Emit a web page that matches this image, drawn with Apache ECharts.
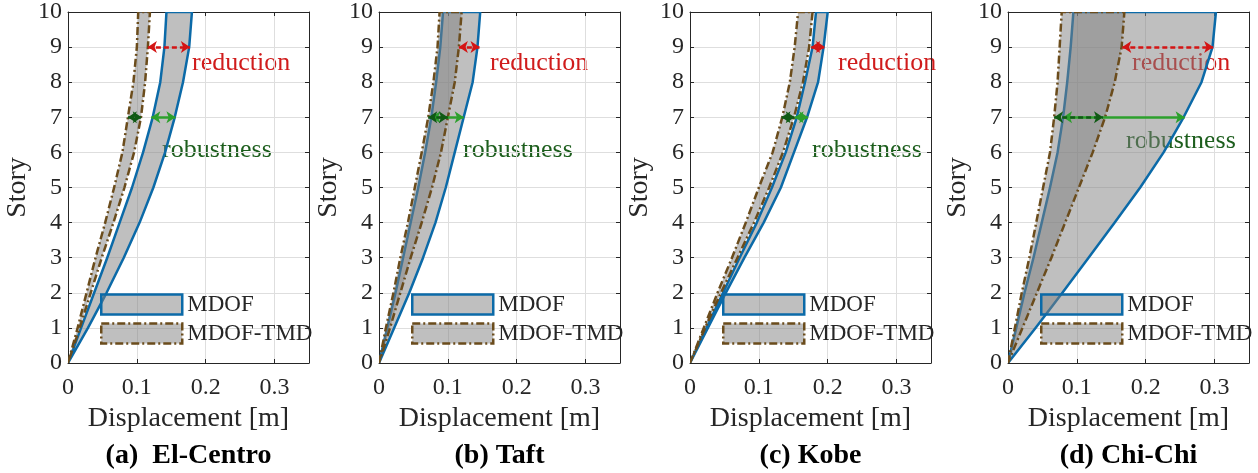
<!DOCTYPE html>
<html>
<head>
<meta charset="utf-8">
<script src="https://cdn.jsdelivr.net/npm/echarts@6/dist/echarts.min.js"></script>
<style>
html, body { margin: 0; padding: 0; background: #fff; }
#main { width: 1258px; height: 473px; }
</style>
</head>
<body>
<div id="main"></div>
<script>
// story levels and axis ticks
const stories = [0, 1, 2, 3, 4, 5, 6, 7, 8, 9, 10];
const xTicks = [0, 0.1, 0.2, 0.3];
const panelTitles = ['(a)  El-Centro', '(b) Taft', '(c) Kobe', '(d) Chi-Chi'];
const bandNames = ['MDOF', 'MDOF-TMD'];

// displacement envelopes [m] per story (low / high bound)
const elMdofLow  = [0, 0.019, 0.038, 0.057, 0.075, 0.093, 0.109, 0.123, 0.134, 0.140, 0.143];
const elMdofHigh = [0, 0.029, 0.056, 0.081, 0.104, 0.124, 0.141, 0.155, 0.167, 0.176, 0.180];
const elTmdLow   = [0, 0.014, 0.027, 0.040, 0.054, 0.067, 0.079, 0.087, 0.095, 0.100, 0.102];
const elTmdHigh  = [0, 0.017, 0.033, 0.049, 0.066, 0.082, 0.096, 0.106, 0.112, 0.116, 0.119];

const taMdofLow  = [0, 0.012, 0.024, 0.035, 0.046, 0.057, 0.067, 0.076, 0.083, 0.089, 0.093];
const taMdofHigh = [0, 0.022, 0.044, 0.064, 0.082, 0.097, 0.110, 0.123, 0.136, 0.143, 0.147];
const taTmdLow   = [0, 0.010, 0.021, 0.031, 0.042, 0.052, 0.062, 0.0715, 0.079, 0.085, 0.088];
const taTmdHigh  = [0, 0.016, 0.031, 0.046, 0.062, 0.077, 0.090, 0.100, 0.110, 0.116, 0.120];

const koMdofLow  = [0, 0.024, 0.048, 0.072, 0.097, 0.119, 0.139, 0.155, 0.167, 0.178, 0.183];
const koMdofHigh = [0, 0.026, 0.052, 0.079, 0.107, 0.132, 0.151, 0.170, 0.186, 0.194, 0.200];
const koTmdLow   = [0, 0.020, 0.040, 0.061, 0.081, 0.100, 0.120, 0.134, 0.145, 0.152, 0.157];
const koTmdHigh  = [0, 0.022, 0.045, 0.069, 0.093, 0.115, 0.135, 0.151, 0.164, 0.173, 0.178];

const ccMdofLow  = [0, 0.012, 0.024, 0.037, 0.049, 0.061, 0.072, 0.080, 0.086, 0.091, 0.095];
const ccMdofHigh = [0, 0.040, 0.079, 0.117, 0.155, 0.192, 0.226, 0.255, 0.281, 0.297, 0.302];
const ccTmdLow   = [0, 0.010, 0.020, 0.031, 0.041, 0.051, 0.061, 0.067, 0.072, 0.075, 0.078];
const ccTmdHigh  = [0, 0.021, 0.042, 0.063, 0.083, 0.103, 0.123, 0.141, 0.155, 0.165, 0.169];

// annotation arrows: reduction at story 9, robustness at story 7
const reductionStory = 9;
const robustStory = 7;
const reductionSpan = [[0.116, 0.177], [0.116, 0.146], [0.176, 0.196], [0.166, 0.298]];
const robustTmdSpan = [[0.087, 0.107], [0.0715, 0.100], [0.133, 0.152], [0.067, 0.138]];
const robustMdofSpan = [[0.121, 0.156], [0.076, 0.123], [0.152, 0.1715], [0.080, 0.2565]];

const panels = [
  [elMdofLow, elMdofHigh, elTmdLow, elTmdHigh],
  [taMdofLow, taMdofHigh, taTmdLow, taTmdHigh],
  [koMdofLow, koMdofHigh, koTmdLow, koTmdHigh],
  [ccMdofLow, ccMdofHigh, ccTmdLow, ccTmdHigh]
];

const FONT = "'Liberation Serif', 'Times New Roman', serif";
const AX = '#262626';
const BLUE = '#0b6aa8';
const BROWN = '#6b4c1c';
const FILL = 'rgba(128,128,128,0.5)';
const DASHDOT = [8, 3, 2, 3];

const gridLeft = [68, 379, 690, 1008];
const gridTop = 12, gridW = 241, gridH = 351;

var myChart = echarts.init(document.getElementById('main'));

const bandItem = (lo, hi, stroke, dash) => (params, api) => {
  var pts = [];
  for (var i = 0; i < stories.length; i++) pts.push(api.coord([lo[i], stories[i]]));
  for (var j = stories.length - 1; j >= 0; j--) pts.push(api.coord([hi[j], stories[j]]));
  return {
    type: 'polygon',
    shape: { points: pts },
    style: { fill: FILL, stroke: stroke, lineWidth: 2.5, lineDash: dash, lineJoin: 'round' }
  };
};

var grid = [], xAxis = [], yAxis = [], series = [], legend = [], graphic = [];

panels.forEach((p, i) => {
  grid.push({ left: gridLeft[i], top: gridTop, width: gridW, height: gridH });
  // bottom x axis
  xAxis.push({
    gridIndex: i, type: 'value', min: 0, max: 0.35, interval: 0.1, position: 'bottom',
    name: 'Displacement [m]', nameLocation: 'middle', nameGap: 42,
    nameTextStyle: { fontFamily: FONT, fontSize: 28, color: AX },
    axisLine: { onZero: false, lineStyle: { color: AX, width: 1 } },
    axisTick: { inside: true, length: 4, lineStyle: { color: AX } },
    axisLabel: {
      margin: 13, fontFamily: FONT, fontSize: 24, color: AX,
      formatter: v => {
        var t = xTicks.find(k => Math.abs(k - v) < 1e-6);
        return t === undefined ? '' : (t === 0 ? '0' : t.toFixed(1));
      }
    },
    splitLine: { show: true, lineStyle: { color: '#dedede', width: 1 } }
  });
  // top x axis (box)
  xAxis.push({
    gridIndex: i, type: 'value', min: 0, max: 0.35, interval: 0.1, position: 'top',
    axisLine: { onZero: false, lineStyle: { color: AX, width: 1 } },
    axisTick: { inside: true, length: 4, lineStyle: { color: AX } },
    axisLabel: { show: false }, splitLine: { show: false }
  });
  yAxis.push({
    gridIndex: i, type: 'value', min: 0, max: 10, interval: 1, position: 'left',
    name: 'Story', nameLocation: 'middle', nameGap: 36,
    nameTextStyle: { fontFamily: FONT, fontSize: 28, color: AX },
    axisLine: { onZero: false, lineStyle: { color: AX, width: 1 } },
    axisTick: { inside: true, length: 4, lineStyle: { color: AX } },
    axisLabel: { margin: 6, fontFamily: FONT, fontSize: 24, color: AX },
    splitLine: { show: true, lineStyle: { color: '#dedede', width: 1 } }
  });
  yAxis.push({
    gridIndex: i, type: 'value', min: 0, max: 10, interval: 1, position: 'right',
    axisLine: { onZero: false, lineStyle: { color: AX, width: 1 } },
    axisTick: { inside: true, length: 4, lineStyle: { color: AX } },
    axisLabel: { show: false }, splitLine: { show: false }
  });

  var xi = 2 * i, yi = 2 * i;
  series.push({
    name: bandNames[0], type: 'custom', xAxisIndex: xi, yAxisIndex: yi, clip: true,
    data: [[0, 0]], renderItem: bandItem(p[0], p[1], BLUE, null), silent: true,
    itemStyle: { color: FILL, borderColor: BLUE }
  });
  series.push({
    name: bandNames[1], type: 'custom', xAxisIndex: xi, yAxisIndex: yi, clip: true,
    data: [[0, 0]], renderItem: bandItem(p[2], p[3], BROWN, DASHDOT), silent: true,
    itemStyle: { color: FILL, borderColor: BROWN }
  });
  series.push({
    type: 'lines', coordinateSystem: 'cartesian2d', xAxisIndex: xi, yAxisIndex: yi,
    symbol: ['arrow', 'arrow'], symbolSize: 9, silent: true, z: 5,
    data: [
      { coords: [[robustMdofSpan[i][0], robustStory], [robustMdofSpan[i][1], robustStory]],
        lineStyle: { color: '#2ca02c', width: 2.5, opacity: 1, type: 'solid' } },
      { coords: [[robustTmdSpan[i][0], robustStory], [robustTmdSpan[i][1], robustStory]],
        lineStyle: { color: '#0f5a14', width: 2.5, opacity: 1, type: [5, 3] } },
      { coords: [[reductionSpan[i][0], reductionStory], [reductionSpan[i][1], reductionStory]],
        lineStyle: { color: '#d41414', width: 2.5, opacity: 1, type: [5, 3] } }
    ]
  });

  legend.push({
    left: gridLeft[i] + 32, top: 293, orient: 'vertical', selectedMode: false, padding: 0,
    icon: 'rect', itemWidth: 81, itemHeight: 20, itemGap: 6,
    textStyle: { fontFamily: FONT, fontSize: 23, color: AX },
    data: [
      { name: bandNames[0], itemStyle: { color: FILL, borderColor: BLUE, borderWidth: 2.5 } },
      { name: bandNames[1], itemStyle: { color: FILL, borderColor: BROWN, borderWidth: 2.5, borderType: DASHDOT } }
    ]
  });

  graphic.push({
    type: 'text', x: gridLeft[i] + gridW / 2, y: 456,
    style: { text: panelTitles[i], font: "bold 28px " + FONT, fill: '#000', textAlign: 'center', textVerticalAlign: 'middle' }
  });
});

// annotation texts
const reductionX = [192, 490, 838, 1132];
const robustX = [162, 463, 812, 1126];
const robustY = [150, 150, 150, 141];
reductionX.forEach((x, i) => {
  graphic.push({ type: 'text', x: x, y: 63,
    style: { text: 'reduction', font: "26px " + FONT, fill: '#d01c1c', textVerticalAlign: 'middle' } });
  graphic.push({ type: 'text', x: robustX[i], y: robustY[i],
    style: { text: 'robustness', font: "26px " + FONT, fill: '#1d5e1d', textVerticalAlign: 'middle' } });
});

myChart.setOption({
  animation: false,
  grid: grid,
  xAxis: xAxis,
  yAxis: yAxis,
  legend: legend,
  series: series,
  graphic: graphic
});
</script>
</body>
</html>
